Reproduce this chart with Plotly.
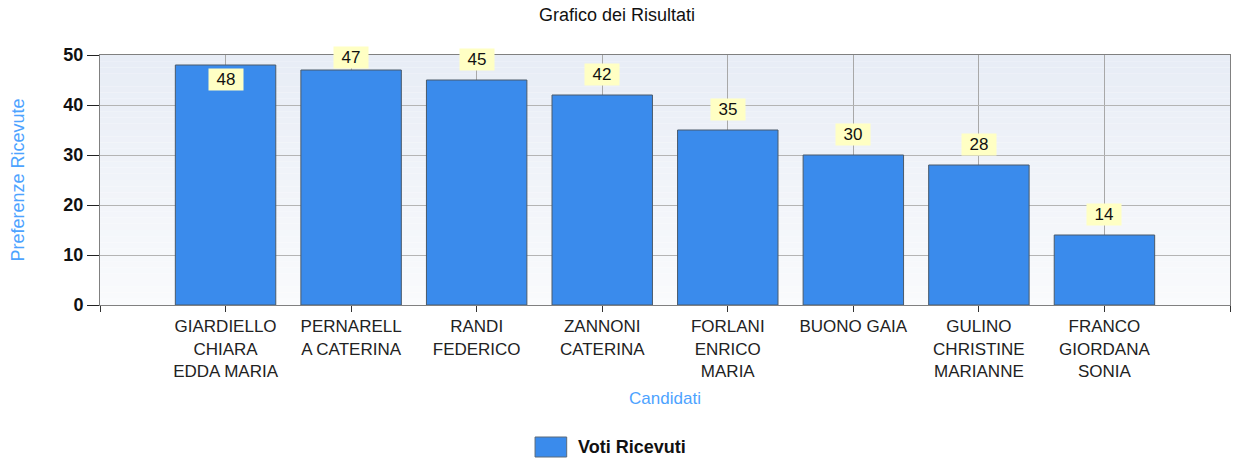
import plotly.graph_objects as go

candidati = ["GIARDIELLO<br>CHIARA<br>EDDA MARIA", "PERNARELL<br>A CATERINA", "RANDI<br>FEDERICO",
             "ZANNONI<br>CATERINA", "FORLANI<br>ENRICO<br>MARIA", "BUONO GAIA",
             "GULINO<br>CHRISTINE<br>MARIANNE", "FRANCO<br>GIORDANA<br>SONIA"]
voti = [48, 47, 45, 42, 35, 30, 28, 14]
y_ticks = [0, 10, 20, 30, 40, 50]
serie = "Voti Ricevuti"
BAR = "#3A8BEC"
FONT = "Liberation Sans"

fig = go.Figure()
fig.add_trace(go.Bar(
    x=list(range(len(candidati))), y=voti, name=serie,
    marker=dict(color=BAR, line=dict(color="#4A5A6A", width=1)),
    width=0.8, showlegend=False,
))

# gradient background
n = 40
shapes = []
for i in range(n):
    t = i / (n - 1)
    r = int(232 + (250 - 232) * (1 - t))
    g = int(237 + (251 - 237) * (1 - t))
    b = int(246 + (253 - 246) * (1 - t))
    shapes.append(dict(type="rect", xref="x domain", yref="y domain",
                       x0=0, x1=1, y0=i / n, y1=(i + 1) / n, line=dict(width=0),
                       fillcolor=f"rgb({r},{g},{b})", layer="below"))
# manual legend swatch
shapes.append(dict(type="rect", xref="paper", yref="paper", x0=0.385, x1=0.413,
                   y0=-0.608, y1=-0.528, fillcolor=BAR, line=dict(color="#5A6A7A", width=1)))
fig.update_layout(shapes=shapes)
fig.add_annotation(xref="paper", yref="paper", x=0.421, y=-0.568, xanchor="left", yanchor="middle",
                   text=f"<b>{serie}</b>", showarrow=False,
                   font=dict(size=18, color="#111", family=FONT))

for i, v in enumerate(voti):
    if v >= 48:
        ys = -14
    elif v >= 47:
        ys = 13
    else:
        ys = 21
    fig.add_annotation(x=i, y=v, yshift=ys, text=str(v), showarrow=False,
                       bgcolor="#FFFFC4", font=dict(size=17, color="#111", family=FONT),
                       width=32, height=19, borderpad=1)

fig.update_layout(
    width=1234, height=459,
    margin=dict(l=100, r=4, t=55, b=154, autoexpand=False),
    paper_bgcolor="white", plot_bgcolor="rgba(0,0,0,0)",
    title=dict(text="Grafico dei Risultati", x=0.5, xanchor="center", y=0.967, yanchor="middle",
               font=dict(size=18, color="#111", family=FONT)),
    font=dict(family=FONT),
    showlegend=False,
)

tickvals = [-1] + list(range(len(candidati))) + [8]
ticktext = [""] + candidati + [""]
fig.update_xaxes(
    tickmode="array", tickvals=tickvals, ticktext=ticktext,
    range=[-1, 8], showgrid=True, gridcolor="#A8A8A8", gridwidth=1,
    showline=True, linecolor="#808080", linewidth=1, mirror=True,
    ticks="outside", ticklen=6, tickcolor="#333", automargin=False,
    tickfont=dict(size=17, color="#222", family=FONT),
    title=dict(text="Candidati", font=dict(size=17, color="#4DA3FF"), standoff=12),
    zeroline=False,
)
fig.update_yaxes(
    range=[0, 50], tickvals=y_ticks, showgrid=True, gridcolor="#B4B4B4", gridwidth=1,
    showline=True, linecolor="#808080", linewidth=1, mirror=True,
    ticks="outside", ticklen=12, tickcolor="#222", automargin=False,
    tickfont=dict(size=18, color="#111", family=FONT, weight="bold"),
    title=dict(text="Preferenze Ricevute", font=dict(size=18, color="#4DA3FF"), standoff=34),
    zeroline=False,
)

fig.write_html("out.html", config={"displayModeBar": False},
               post_script="document.body.style.margin='0';document.body.style.overflow='hidden';")
